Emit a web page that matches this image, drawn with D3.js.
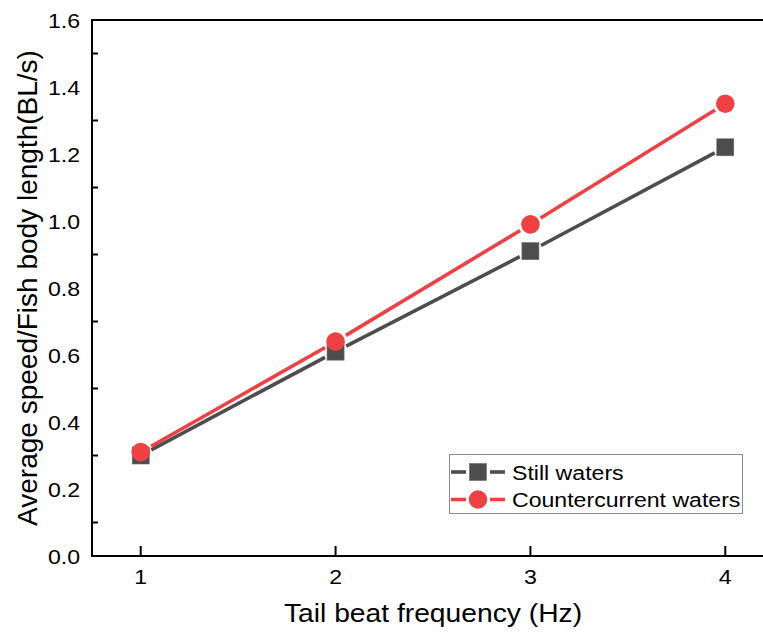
<!DOCTYPE html>
<html lang="en">
<head>
    <meta charset="UTF-8">
    <title>Tail beat frequency vs speed</title>
    <script src="https://d3js.org/d3.v7.min.js"></script>
</head>
<body>
    <div id="container"></div>
</body>

<style>
body {
    margin: 0;
    background: #fff;
}
svg text {
    font-family: "Liberation Sans", Arial, sans-serif;
    fill: #000;
}
</style>

<script>
    // data
    const frequencies = [1, 2, 3, 4]
    const stillWaters = [0.30, 0.61, 0.91, 1.22]
    const counterWaters = [0.31, 0.64, 0.99, 1.35]
    const yTickLabels = [0.0, 0.2, 0.4, 0.6, 0.8, 1.0, 1.2, 1.4, 1.6]
    const yMinorTicks = [0.1, 0.3, 0.5, 0.7, 0.9, 1.1, 1.3, 1.5]

    const series = [
        {name: 'Still waters', values: stillWaters, color: '#4d4d4d', shape: 'square'},
        {name: 'Countercurrent waters', values: counterWaters, color: '#ef4044', shape: 'circle'},
    ]

    const width = 763
    const height = 634
    const plotLeft = 92, plotRight = 774, plotTop = 20, plotBottom = 556
    const stretch = 1.1   // text in the picture is a bit wider than Arial
    const lineWidth = 3.6

    const svg = d3.select('#container')
        .append('svg')
        .attr('width', width)
        .attr('height', height)

    const x = d3.scaleLinear().domain([0.75, 4.25]).range([plotLeft, plotRight])
    const y = d3.scaleLinear().domain([0, 1.6]).range([plotBottom, plotTop])

    // axis lines (left, bottom, top)
    const axes = svg.append('g')
        .attr('stroke', '#000')
        .attr('stroke-width', 2)
        .attr('fill', 'none')
    axes.append('path')
        .attr('d', `M${plotRight},${plotTop}H${plotLeft}V${plotBottom}H${plotRight}`)
        .attr('stroke-linecap', 'square')

    // y minor ticks, pointing inward
    axes.selectAll('.ytick')
        .data(yMinorTicks)
        .enter()
        .append('line')
        .attr('x1', plotLeft)
        .attr('x2', plotLeft + 6)
        .attr('y1', d => y(d))
        .attr('y2', d => y(d))

    // x ticks, pointing inward
    axes.selectAll('.xtick')
        .data(frequencies)
        .enter()
        .append('line')
        .attr('x1', d => x(d))
        .attr('x2', d => x(d))
        .attr('y1', plotBottom)
        .attr('y2', plotBottom - 10)

    // y tick labels
    svg.append('g')
        .selectAll('g')
        .data(yTickLabels)
        .enter()
        .append('g')
        .attr('transform', d => `translate(80,${y(d)}) scale(${stretch},1)`)
        .append('text')
        .attr('text-anchor', 'end')
        .attr('dy', '0.36em')
        .style('font-size', '21px')
        .text(d => d.toFixed(1))

    // x tick labels
    svg.append('g')
        .selectAll('g')
        .data(frequencies)
        .enter()
        .append('g')
        .attr('transform', d => `translate(${x(d)},584) scale(${stretch},1)`)
        .append('text')
        .attr('text-anchor', 'middle')
        .style('font-size', '21px')
        .text(d => d)

    // axis titles
    svg.append('g')
        .attr('transform', `translate(${(plotLeft + plotRight) / 2},622) scale(1.13,1)`)
        .append('text')
        .attr('text-anchor', 'middle')
        .style('font-size', '25px')
        .text('Tail beat frequency (Hz)')

    svg.append('text')
        .attr('transform', `translate(37,${(plotTop + plotBottom) / 2}) rotate(-90)`)
        .attr('text-anchor', 'middle')
        .style('font-size', '28px')
        .text('Average speed/Fish body length(BL/s)')

    // marker helper
    function drawMarker(g, shape, cx, cy, color) {
        if (shape === 'square') {
            g.append('rect')
                .attr('x', cx - 8.5)
                .attr('y', cy - 8.5)
                .attr('width', 17)
                .attr('height', 17)
                .attr('fill', color)
                .attr('stroke', '#6a6a6a')
                .attr('stroke-width', 0.6)
        }
        else {
            g.append('circle')
                .attr('cx', cx)
                .attr('cy', cy)
                .attr('r', 9.3)
                .attr('fill', color)
        }
    }

    const gap = 12  // line stops short of markers

    series.forEach(function(s) {
        const g = svg.append('g')
        const pts = s.values.map((v, i) => [x(frequencies[i]), y(v)])

        // segments with a gap around markers
        for (let i = 0; i < pts.length - 1; ++i) {
            const [x1, y1] = pts[i]
            const [x2, y2] = pts[i + 1]
            const len = Math.hypot(x2 - x1, y2 - y1)
            const ux = (x2 - x1) / len, uy = (y2 - y1) / len
            g.append('line')
                .attr('x1', x1 + ux * gap)
                .attr('y1', y1 + uy * gap)
                .attr('x2', x2 - ux * gap)
                .attr('y2', y2 - uy * gap)
                .attr('stroke', s.color)
                .attr('stroke-width', lineWidth)
        }

        pts.forEach(p => drawMarker(g, s.shape, p[0], p[1], s.color))
    })

    // legend
    const legend = svg.append('g')
    legend.append('rect')
        .attr('x', 449.5)
        .attr('y', 454.5)
        .attr('width', 293)
        .attr('height', 59)
        .attr('fill', '#fff')
        .attr('stroke', '#8c8c8c')
        .attr('stroke-width', 1)

    series.forEach(function(s, i) {
        const cy = 472 + i * 27.5
        const row = legend.append('g')
        row.append('line')
            .attr('x1', 451).attr('x2', 466)
            .attr('y1', cy).attr('y2', cy)
            .attr('stroke', s.color)
            .attr('stroke-width', lineWidth)
        row.append('line')
            .attr('x1', 490).attr('x2', 505)
            .attr('y1', cy).attr('y2', cy)
            .attr('stroke', s.color)
            .attr('stroke-width', lineWidth)
        drawMarker(row, s.shape, 478, cy, s.color)
        row.append('g')
            .attr('transform', `translate(512,${cy}) scale(${stretch},1)`)
            .append('text')
            .attr('dy', '0.36em')
            .style('font-size', '21px')
            .text(s.name)
    })
</script>
</html>
